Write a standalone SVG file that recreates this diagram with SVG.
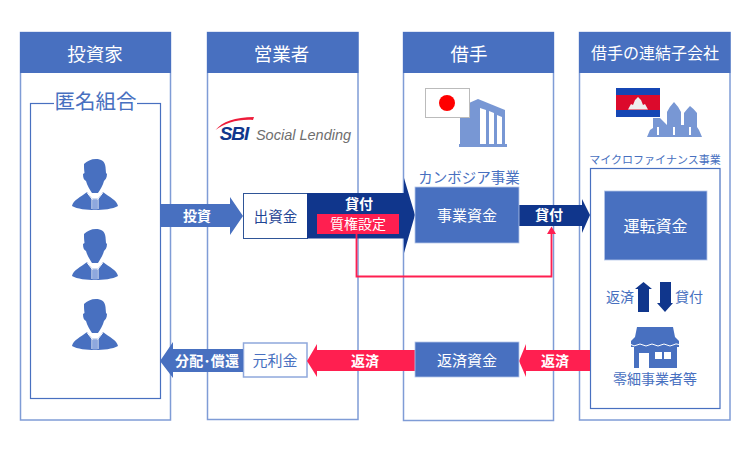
<svg xmlns="http://www.w3.org/2000/svg" width="751" height="451" viewBox="0 0 751 451">
<style>
text{font-family:"Noto Sans CJK JP","Noto Sans",sans-serif;text-anchor:middle}
.col{fill:#fff;stroke:#7f9cd6;stroke-width:1.5}
.hd{fill:#4870c0}
.ht{fill:#fff;font-size:18.500px}
.w{fill:#fff}
.wb{fill:#fff;font-weight:700;font-size:14px}
.bl{fill:#4870c0}
.lb{fill:#4870c0}
.dk{fill:#10368c}
.rd{fill:#ff1f50}
.frame{fill:#fff;stroke:#4870c0;stroke-width:1.2}
.ln{fill:#4870c0;stroke:#b4c5e8;stroke-width:.8}
.ic{fill:#7897d4}
</style>
<defs>
<g id="person">
<path class="bl" d="M-11,5C-8,2 -4,0 1,0C6,0 10,2 10.500,8L11,14L12,15C12,19 10,21 9,22C8,26 5,31 3,34L-3,34C-5,31 -8,26 -9,22C-11,21 -12,19 -12,15L-10.500,14C-11,10 -11,8 -11,5Z"/>
<path class="bl" d="M-23,47C-22,41 -14,38 -8,33L-3,39.500H3L8,33C14,38 22,41 23,47C18,50 8,51 0,51C-8,51 -18,50 -23,47Z"/>
<path fill="none" stroke="#fff" stroke-width="1" d="M-8,33.500L-3,40H3L8,33.500M-3,40V50M3,40V50"/>
<path fill="#8ea8de" d="M-2.500,41H2.500V50.500H-2.500Z"/>
</g>
</defs>

<g id="col-investor">
<rect class="col" x="20.500" y="32.500" width="150" height="387.500"/>
<rect class="hd" x="20" y="32" width="151" height="41"/>
<text class="ht" x="95" y="61">投資家</text>
<rect class="frame" x="30.500" y="103.500" width="130" height="295"/>
<rect class="w" x="54" y="92" width="83" height="24"/>
<text class="lb" x="95.500" y="109" font-size="20.500">匿名組合</text>
<use href="#person" x="95" y="159"/>
<use href="#person" x="95" y="229"/>
<use href="#person" x="95" y="299"/>
</g>

<g id="col-operator">
<rect class="col" x="207.500" y="32.500" width="150.500" height="387"/>
<rect class="hd" x="207" y="32" width="151.500" height="41"/>
<text class="ht" x="281.500" y="61">営業者</text>
<path fill="#ee1c3a" d="M215.500,130C222,122 235,117 254,117L253,120C238,119 225,123 215.500,130Z"/>
<text x="234" y="140" fill="#10368c" font-size="19" font-weight="700" font-style="italic" letter-spacing="-1" style="font-family:'Liberation Sans',sans-serif">SBI</text>
<text x="303.500" y="140" fill="#6e6e6e" font-size="14.500" font-style="italic" style="font-family:'Liberation Sans',sans-serif">Social Lending</text>
</g>

<g id="col-borrower">
<rect class="col" x="403.500" y="32.500" width="150" height="388"/>
<rect class="hd" x="403" y="32" width="151" height="41"/>
<text class="ht" x="469" y="61">借手</text>
<path class="ic" d="M460,107L478,99L505,110V144H460Z"/>
<path class="w" d="M480,108L486,110V144H480ZM489,111L494,113V144H489ZM497,115L502,117V144H497Z"/>
<rect class="ic" x="459" y="144" width="48" height="3"/>
<rect x="425.500" y="88.500" width="44" height="29" fill="#fff" stroke="#bbb"/>
<circle cx="447" cy="103" r="8" fill="#f00"/>
</g>

<g id="col-subsidiary">
<rect class="col" x="579.500" y="32.500" width="150.500" height="387.500"/>
<rect class="hd" x="579" y="32" width="151.500" height="41"/>
<text class="ht" x="655" y="59" style="font-size:16px">借手の連結子会社</text>
<path class="ic" d="M647,137L650,130L653,128V118H660L667,125V112Q670,106 674,102Q678,106 681,112V125H684V113Q687,109 690,106Q694,109 697,113V127L699,130L702,137Z"/>
<path class="w" d="M657,127H659V135H657ZM673,127H675V135H673ZM689,127H691V135H689Z"/>
<rect x="616" y="88" width="44" height="29" fill="#1546b4"/>
<rect x="616" y="95" width="44" height="15" fill="#dc0a2c"/>
<path fill="#eee" d="M628,109.500L631,104L633,105L635,100L638,97L641,100L643,105L645,104L648,109.500Z"/>
<text class="lb" x="655" y="164" style="font-size:11px">マイクロファイナンス事業</text>
<rect class="frame" x="590.500" y="168.500" width="129.500" height="240"/>
</g>

<g id="node-shikkin">
<rect x="243.500" y="193.500" width="64" height="45" fill="#fff" stroke="#2f5597"/>
<text x="275.500" y="222" fill="#1f4695" font-size="14.500">出資金</text>
</g>
<g id="node-ganrikin">
<rect x="243.500" y="343" width="63.500" height="34" fill="#fff" stroke="#8fa8dc" stroke-width="1.500"/>
<text class="lb" x="275" y="366" font-size="15">元利金</text>
</g>

<g id="connectors">
<path class="bl" d="M160,204H230V197L243,216L230,235V227H160Z"/>
<text class="wb" x="197" y="221">投資</text>
<path class="dk" d="M307,193H404V178L415,215L404,253V238.500H307Z"/>
<text class="wb" x="359" y="209">貸付</text>
<path class="dk" d="M519,205H582V199L590,215L582,233V226H519Z"/>
<text class="wb" x="549" y="220">貸付</text>
<path fill="none" stroke="#ff1f50" stroke-width="1.800" d="M356.500,234V276.500H551.500V232"/>
<path class="rd" d="M551.500,226.500L556,234H547Z"/>
<path class="rd" d="M307,361L317,344V350H415V371H317V377Z"/>
<text class="wb" x="365" y="366">返済</text>
<path class="rd" d="M519,361L526,344V350H590V371H526V377Z"/>
<text class="wb" x="555" y="366">返済</text>
<path class="bl" d="M160,361L173,342V349H243V372H173V378Z"/>
<text class="wb" x="207" y="366" textLength="64">分配･償還</text>
<path class="dk" d="M643.500,282L652,289H649V312H638V289H635Z"/>
<path class="dk" d="M665,312L673,303H671V282H660V303H657Z"/>
<text class="lb" x="620" y="302" font-size="14">返済</text>
<text class="lb" x="689" y="302" font-size="14">貸付</text>
</g>

<g id="node-pledge">
<rect class="rd" x="317" y="214" width="82" height="20"/>
<text class="w" x="358" y="229" font-size="14">質権設定</text>
</g>
<g id="node-jigyo">
<text class="lb" x="469" y="183" font-size="14.500">カンボジア事業</text>
<rect class="ln" x="415" y="187" width="104" height="56"/>
<text class="w" x="467" y="221" font-size="15">事業資金</text>
</g>
<g id="node-hensai">
<rect class="ln" x="415" y="342" width="104" height="35"/>
<text class="w" x="467" y="366" font-size="15">返済資金</text>
</g>
<g id="node-unten">
<rect class="ln" x="604.500" y="191" width="102.500" height="69"/>
<text class="w" x="655.500" y="232" font-size="16">運転資金</text>
</g>
<g id="node-shop">
<path class="bl" d="M637,327H673L675,337L679,341V347H631V341L635,337Z"/>
<path class="bl" d="M634,346H677V368H634Z"/>
<path fill="none" stroke="#fff" stroke-width="1" d="M631,344.500Q634,347 637,345T643,345T649,345T655,345T661,345T667,345T673,345T679,344.500"/>
<path class="w" d="M639,353H649V368H639ZM655,352H662V359H655ZM664,352H671V359H664Z"/>
<text class="lb" x="655" y="384" style="font-size:14px">零細事業者等</text>
</g>
</svg>
